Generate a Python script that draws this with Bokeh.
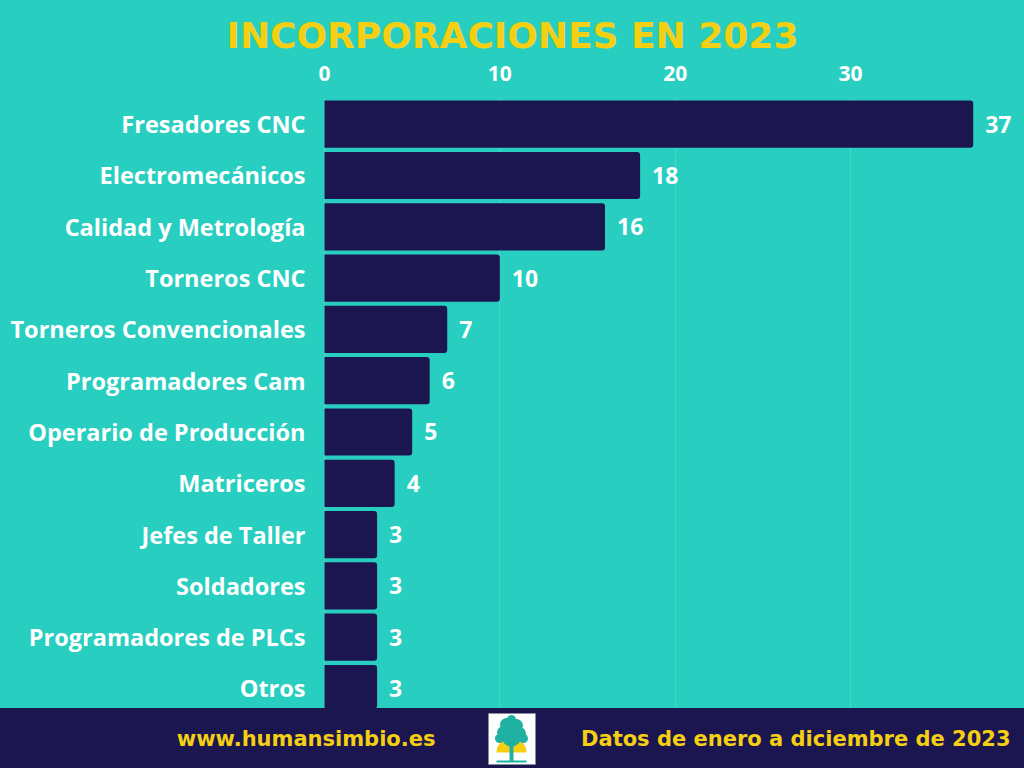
from bokeh.plotting import figure
from bokeh.models import Range1d, FixedTicker, ColumnDataSource, Title
from bokeh.layouts import column
from bokeh.core.properties import value
from bokeh.embed import file_html
from bokeh.resources import INLINE

categories = ["Fresadores CNC", "Electromecánicos", "Calidad y Metrología", "Torneros CNC",
              "Torneros Convencionales", "Programadores Cam", "Operario de Producción",
              "Matriceros", "Jefes de Taller", "Soldadores", "Programadores de PLCs", "Otros"]
counts = [37, 18, 16, 10, 7, 6, 5, 4, 3, 3, 3, 3]
x_ticks = [0, 10, 20, 30]
title_text = "INCORPORACIONES EN 2023"
footer_left = "www.humansimbio.es"
footer_right = "Datos de enero a diciembre de 2023"

TEAL = "#28CEBF"
NAVY = "#1C1650"
YELLOW = "#F4CF12"
GRID = "#48D6CA"

n = len(categories)
ypos = [n - 1 - i for i in range(n)]
src = ColumnDataSource(dict(y=ypos, v=counts, cat=categories, x0=[0] * n,
                            lab=[str(c) for c in counts]))

PX = 17.533  # pixels per unit along x
p = figure(width=1024, height=708, output_backend="svg", toolbar_location=None,
           x_range=Range1d(-324 / PX, 700 / PX), y_range=Range1d(-0.39, 11.52),
           x_axis_location="above", min_border_left=0, min_border_right=0,
           min_border_bottom=0, min_border_top=97)
p.background_fill_color = TEAL
p.border_fill_color = TEAL
p.outline_line_color = None
p.styles = {"background-color": TEAL}

p.xgrid.ticker = FixedTicker(ticks=x_ticks)
p.xgrid.grid_line_color = GRID
p.xgrid.grid_line_width = 1
p.ygrid.grid_line_color = None
p.yaxis.visible = False

p.hbar(y="y", right="v", left=0, height=0.92, source=src, fill_color=NAVY,
       line_color=None, border_radius=(0, 3, 3, 0))
p.text(x="v", y="y", text="lab", source=src, x_offset=12, text_baseline="middle",
       text_align="left", text_color="white", text_font=value("Open Sans"),
       text_font_style="bold", text_font_size="23px")
p.text(x="x0", y="y", text="cat", source=src, x_offset=-19, text_baseline="middle",
       text_align="right", text_color="white", text_font=value("Open Sans"),
       text_font_style="bold", text_font_size="23.5px")

p.xaxis.ticker = FixedTicker(ticks=x_ticks)
p.xaxis.axis_line_color = None
p.xaxis.major_tick_line_color = None
p.xaxis.minor_tick_line_color = None
p.xaxis.major_label_text_color = "white"
p.xaxis.major_label_text_font = "Open Sans"
p.xaxis.major_label_text_font_style = "bold"
p.xaxis.major_label_text_font_size = "21px"
p.xaxis.major_label_standoff = 11

t = Title(text=title_text, align="center", text_color=YELLOW, text_font="DejaVu Sans",
          text_font_style="bold", text_font_size="36px", standoff=14, offset=0)
p.add_layout(t, "above")

# footer
f = figure(width=1024, height=60, output_backend="svg", toolbar_location=None,
           x_range=Range1d(0, 1024), y_range=Range1d(0, 60),
           min_border=0)
f.axis.visible = False
f.grid.visible = False
f.background_fill_color = NAVY
f.border_fill_color = NAVY
f.outline_line_color = None
f.styles = {"background-color": NAVY}
f.text(x=[435], y=[30], text=[footer_left], text_align="right", text_baseline="middle",
       text_color=YELLOW, text_font=value("DejaVu Sans"), text_font_style="bold",
       text_font_size="21px")
f.text(x=[1010], y=[30], text=[footer_right], text_align="right", text_baseline="middle",
       text_color=YELLOW, text_font=value("DejaVu Sans"), text_font_style="bold",
       text_font_size="21px")
# logo
f.quad(left=[488], right=[535], bottom=[4], top=[55], fill_color="white", line_color="#8a8aa0")
f.wedge(x=[511], y=[16], radius=15, start_angle=3.14159, end_angle=0, direction="clock",
        fill_color=YELLOW, line_color=None)
f.scatter(x=[511, 503, 519, 506, 516, 511, 499, 523], y=[32, 36, 35, 44, 43, 49, 30, 30],
          size=[20, 13, 13, 13, 13, 9, 9, 9], fill_color="#1FB2A3", line_color=None)
f.quad(left=[509], right=[513], bottom=[7], top=[28], fill_color="#1FB2A3", line_color=None)
f.quad(left=[496], right=[526], bottom=[6], top=[8], fill_color="#1FB2A3", line_color=None)

layout = column(p, f, spacing=0)
open("out.html", "w").write(file_html(layout, INLINE))
